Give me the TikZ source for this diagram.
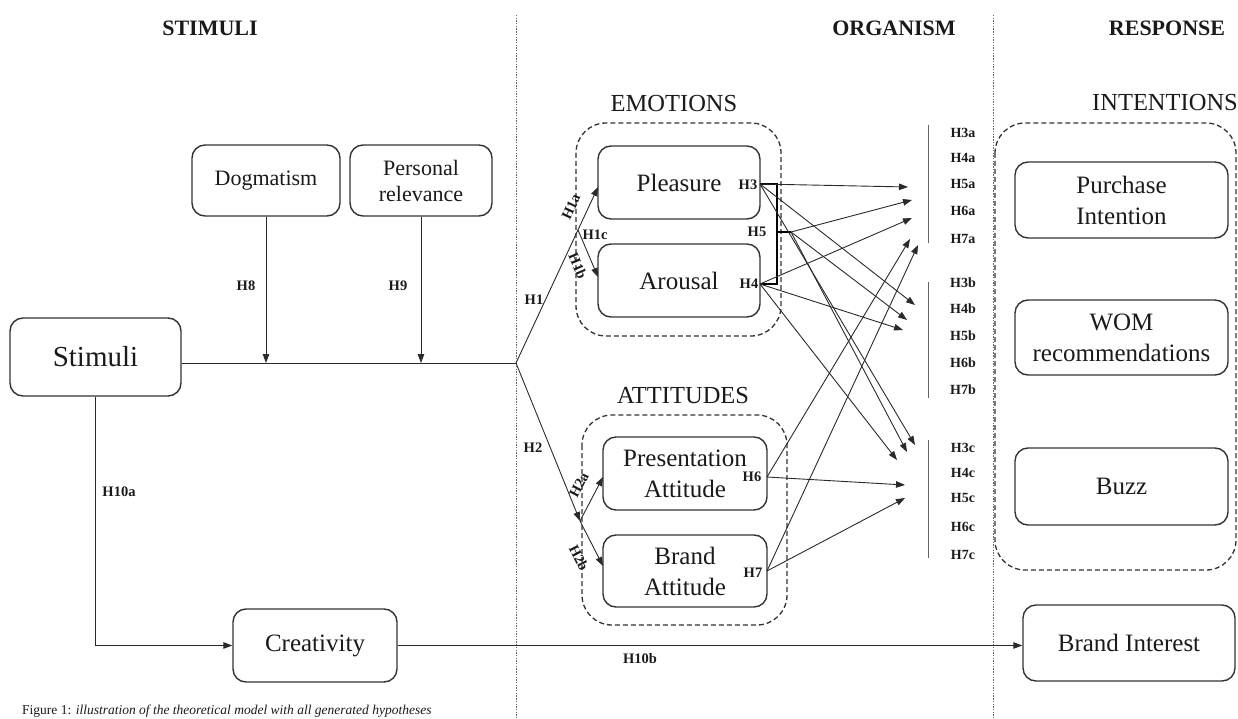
\documentclass[tikz,border=0pt]{standalone}
\usepackage{fontspec}
\setmainfont{Liberation Serif}
\usetikzlibrary{arrows.meta,calc}
\definecolor{boxc}{HTML}{333333}
\definecolor{linec}{HTML}{2A2A2A}
\definecolor{txtc}{HTML}{1A1A1A}
\begin{document}
\begin{tikzpicture}[x=1pt,y=-1pt,
  every node/.style={text=txtc},
  box/.style={draw=boxc, line width=1.4pt, rounded corners=13pt, align=center,
    inner sep=0pt, font=\fontsize{25}{31}\selectfont},
  smallbox/.style={box, font=\fontsize{22}{26}\selectfont},
  group/.style={draw=boxc, line width=1.3pt, dash pattern=on 5pt off 3pt, rounded corners=30pt},
  grouptitle/.style={font=\fontsize{24.5}{26}\selectfont},
  header/.style={font=\bfseries\fontsize{22}{24}\selectfont},
  hyp/.style={font=\bfseries\fontsize{14.5}{15}\selectfont, inner sep=0.5pt},
  hlist/.style={font=\bfseries\fontsize{14}{15}\selectfont, inner sep=0.5pt},
  conn/.style={line width=0.9pt, draw=linec, -{Triangle[length=9pt,width=6.5pt]}},
  plain/.style={line width=0.9pt, draw=linec},
  bracket/.style={line width=2pt, draw=black},
  divider/.style={draw=gray!80!black, line width=1pt, dash pattern=on 1.4pt off 1.3pt},
  tick/.style={draw=gray!80!black, line width=1pt}]
\useasboundingbox (0,0) rectangle (1238,719);

% column dividers and headings
\draw[divider] (516,15) -- (516,719);
\draw[divider] (993,15) -- (993,719);
\node[header] (hs) at (210,28) {STIMULI};
\node[header] (ho) at (894,28) {ORGANISM};
\node[header] (hr) at (1167,28) {RESPONSE};

% group frames
\draw[group] (576,123) rectangle (781,336);
\draw[group] (582,415) rectangle (787,625);
\draw[group] (995,123) rectangle (1236,570);
\node[grouptitle] (temo) at (674,104) {EMOTIONS};
\node[grouptitle] (tatt) at (683,396) {ATTITUDES};
\node[grouptitle] (tint) at (1165,103) {INTENTIONS};

% boxes
\node[box, font=\fontsize{29}{31}\selectfont, minimum width=171pt, minimum height=78pt] (stim) at (95.5,357) {Stimuli};
\node[smallbox, minimum width=148pt, minimum height=71pt] (dog) at (266,180.5) {Dogmatism};
\node[smallbox, minimum width=142pt, minimum height=71pt] (pers) at (421,180.5) {Personal\\relevance};
\node[box, minimum width=162pt, minimum height=73pt] (pleas) at (679,182.5) {Pleasure};
\node[box, minimum width=162pt, minimum height=73pt] (arou) at (679,280.5) {Arousal};
\node[box, minimum width=164pt, minimum height=73pt] (pres) at (685,473.5) {Presentation\\Attitude};
\node[box, minimum width=164pt, minimum height=72pt] (batt) at (685,571) {Brand\\Attitude};
\node[box, minimum width=213pt, minimum height=76pt] (purch) at (1121.5,200) {Purchase\\Intention};
\node[box, minimum width=213pt, minimum height=75pt] (wom) at (1121.5,337.5) {WOM\\recommendations};
\node[box, minimum width=213pt, minimum height=77pt] (buzz) at (1121.5,486.5) {Buzz};
\node[box, minimum width=212pt, minimum height=76pt] (inter) at (1129,643) {Brand Interest};
\node[box, minimum width=164pt, minimum height=73pt] (creat) at (315,645.5) {Creativity};

% stimuli path and moderators
\coordinate (branch) at (516,363);
\draw[plain] (stim.east |- branch) -- (branch);
\draw[conn] (dog.south) -- (dog.south |- branch);
\draw[conn] (pers.south) -- (pers.south |- branch);
\node[hyp] (h8) at (246,286) {H8};
\node[hyp] (h9) at (398,286) {H9};

% H1: emotions
\coordinate (pin) at (598,187);
\coordinate (ain) at (598,277);
\coordinate (h1split) at ($(branch)!0.756!(pin)$);
\draw[conn] (branch) -- (pin);
\draw[conn] (h1split) -- (ain);
\node[hyp] (h1) at (534,300) {H1};
\node[hyp, rotate=65] (h1a) at (571,207) {H1a};
\node[hyp] (h1c) at (595,235) {H1c};
\node[hyp, rotate=-67] (h1b) at (578,266) {H1b};

% H2: attitudes
\coordinate (h2end) at (580,521);
\coordinate (prin) at (603,477);
\coordinate (bain) at (603,566);
\draw[conn] (branch) -- (h2end);
\draw[conn] (h2end) -- (prin);
\draw[conn] (h2end) -- (bain);
\node[hyp] (h2) at (533,448) {H2};
\node[hyp, rotate=62] (h2a) at (579,485) {H2a};
\node[hyp, rotate=-63] (h2b) at (579,558) {H2b};

% emotion outputs
\coordinate (o3) at (760,184);
\coordinate (o4) at (760,284);
\coordinate (o5) at (791,232);
\coordinate (o6) at (767,477);
\coordinate (o7) at (767,571);
\draw[bracket] (o3) -- (777,184) -- (777,284) -- (o4);
\draw[bracket] (777,232) -- (o5);
\node[hyp] (lh3) at (748,185) {H3};
\node[hyp] (lh4) at (749,284) {H4};
\node[hyp] (lh5) at (757,232) {H5};
\node[hyp] (lh6) at (752,477) {H6};
\node[hyp] (lh7) at (753,573) {H7};

% arrow tips at the hypothesis lists
\coordinate (a1) at (908,187);
\coordinate (a2) at (912,200);
\coordinate (a3) at (912,218);
\coordinate (a4) at (910,239);
\coordinate (a5) at (918,245);
\coordinate (b1) at (915,305);
\coordinate (b2) at (907,320);
\coordinate (b3) at (903,330);
\coordinate (c1) at (915,445);
\coordinate (c2) at (907,452);
\coordinate (c3) at (897,460);
\coordinate (c4) at (905,485);
\coordinate (c5) at (905,498);

\draw[conn] (o3) -- (a1);
\draw[conn] (o5) -- (a2);
\draw[conn] (o4) -- (a3);
\draw[conn] (o6) -- (a4);
\draw[conn] (o7) -- (a5);
\draw[conn] (o3) -- (b1);
\draw[conn] (o5) -- (b2);
\draw[conn] (o4) -- (b3);
\draw[conn] (o3) -- (c1);
\draw[conn] (o5) -- (c2);
\draw[conn] (o4) -- (c3);
\draw[conn] (o6) -- (c4);
\draw[conn] (o7) -- (c5);

% hypothesis lists
\draw[tick] (928,125) -- (928,243);
\draw[tick] (928,282) -- (928,398);
\draw[tick] (928,440) -- (928,558);
\foreach \n/\y in {3/133,4/158,5/184,6/211,7/239}
  \node[hlist] (la\n) at (963,\y) {H\n a};
\foreach \n/\y in {3/283,4/309,5/336,6/363,7/390}
  \node[hlist] (lb\n) at (963,\y) {H\n b};
\foreach \n/\y in {3/448,4/473,5/498,6/527,7/555}
  \node[hlist] (lc\n) at (963,\y) {H\n c};

% creativity path
\draw[conn] (stim.south) |- (creat.west);
\draw[conn] (creat.east) -- (creat.east -| inter.west);
\node[hyp] (h10a) at (119,492) {H10a};
\node[hyp] (h10b) at (640,659) {H10b};

% caption
\node[anchor=west, inner sep=0pt, font=\fontsize{13.5}{14}\selectfont] (cap) at (22,711)
  {Figure 1: \textit{illustration of the theoretical model with all generated hypotheses}};
\end{tikzpicture}
\end{document}
